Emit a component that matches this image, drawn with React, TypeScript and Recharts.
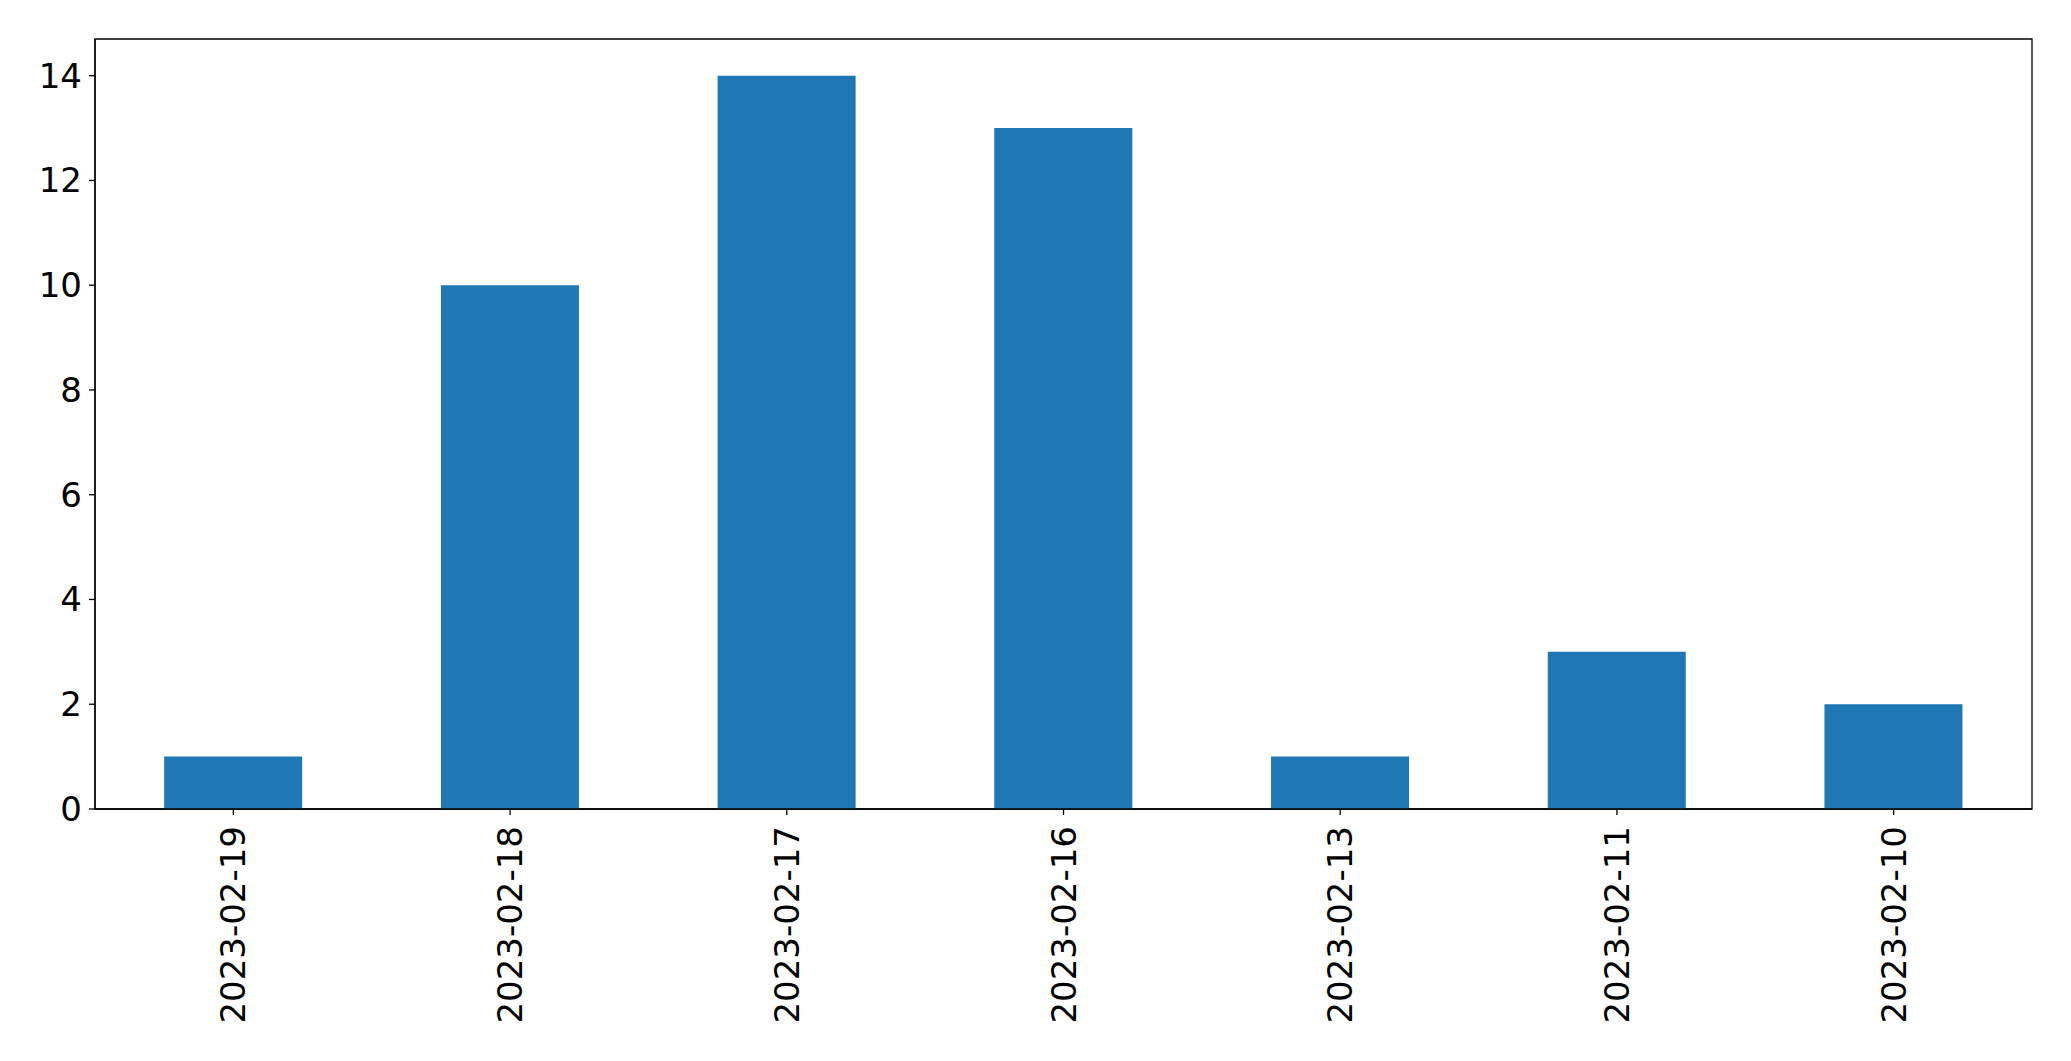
import React from "react";
import { BarChart, Bar, XAxis, YAxis, ReferenceArea } from "recharts";

const categories = ["2023-02-19", "2023-02-18", "2023-02-17", "2023-02-16", "2023-02-13", "2023-02-11", "2023-02-10"];
const counts = [1, 10, 14, 13, 1, 3, 2];
const yTicks = [0, 2, 4, 6, 8, 10, 12, 14];
const yMax = 14.7;

const data = categories.map((c, i) => ({ date: c, count: counts[i] }));

const FONT = "DejaVu Sans";

const XTick = (props: any) => {
  const { x, y, payload } = props;
  return (
    <text
      x={x}
      y={y}
      transform={`rotate(-90, ${x}, ${y})`}
      textAnchor="end"
      dominantBaseline="central"
      fontFamily={FONT}
      fontSize={34}
      fill="#000"
    >
      {payload.value}
    </text>
  );
};

const YTick = (props: any) => {
  const { x, y, payload } = props;
  return (
    <text
      x={x}
      y={y}
      textAnchor="end"
      dominantBaseline="central"
      fontFamily={FONT}
      fontSize={34}
      fill="#000"
    >
      {payload.value}
    </text>
  );
};

export default function App() {
  return (
    <div style={{ position: "absolute", left: 0, top: 0, background: "#fff" }}>
      <BarChart
        width={2071}
        height={1061}
        data={data}
        margin={{ top: 39, right: 39, bottom: 0, left: 0 }}
        barCategoryGap="25%"
      >
        <XAxis
          dataKey="date"
          height={252}
          interval={0}
          tick={<XTick />}
          tickSize={6}
          tickMargin={11}
          axisLine={{ stroke: "#000", strokeWidth: 1.3 }}
          tickLine={{ stroke: "#000", strokeWidth: 1.3 }}
        />
        <YAxis
          width={95}
          domain={[0, yMax]}
          ticks={yTicks}
          interval={0}
          tick={<YTick />}
          tickSize={6}
          tickMargin={7}
          axisLine={{ stroke: "#000", strokeWidth: 1.3 }}
          tickLine={{ stroke: "#000", strokeWidth: 1.3 }}
        />
        <Bar dataKey="count" fill="#1f77b4" isAnimationActive={false} />
        <ReferenceArea
          x1={categories[0]}
          x2={categories[categories.length - 1]}
          y1={0}
          y2={yMax}
          fill="none"
          fillOpacity={0}
          stroke="#000"
          strokeWidth={1.3}
          ifOverflow="visible"
        />
      </BarChart>
    </div>
  );
}
